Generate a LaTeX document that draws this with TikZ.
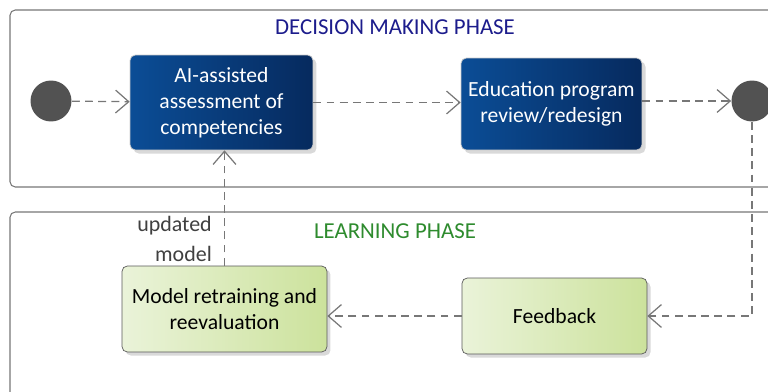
\documentclass[tikz,border=0pt]{standalone}
\usepackage{fontspec}
\setmainfont{Carlito}
\usetikzlibrary{shadows,arrows.meta}

\definecolor{darkA}{HTML}{0B4D96}
\definecolor{darkB}{HTML}{062A5E}
\definecolor{lightA}{HTML}{EAF3D9}
\definecolor{lightB}{HTML}{CCE29C}
\definecolor{titleblue}{HTML}{1C1C8C}
\definecolor{titlegreen}{HTML}{2E8B2E}
\definecolor{flow}{HTML}{777777}

\begin{document}
\begin{tikzpicture}[x=0.02cm, y=-0.02cm,
    phase/.style={draw=flow, rounded corners=3pt, line width=0.6pt},
    darkact/.style={draw=gray!40, rounded corners=3pt, left color=darkA,
      right color=darkB, text=white, align=center,
      font=\fontsize{12.3}{14.8}\selectfont,
      drop shadow={opacity=0.3, shadow xshift=2pt, shadow yshift=-2pt}},
    lightact/.style={draw=gray!70!black, rounded corners=3pt, left color=lightA,
      right color=lightB, text=black, align=center,
      font=\fontsize{12.3}{14.8}\selectfont,
      drop shadow={opacity=0.3, shadow xshift=2pt, shadow yshift=-2pt}},
    dot/.style={circle, fill=black!68, minimum size=0.82cm, inner sep=0pt},
    flowto/.style={draw=flow, line width=0.7pt, dash pattern=on 4.5pt off 3pt,
      -{Straight Barb[length=7.5pt, width=13pt, line width=0.7pt]}},
    lbl/.style={text=black!75, align=right, font=\fontsize{12.5}{17}\selectfont}
  ]
    \clip (0,0) rectangle (768,392) ;
    % phases
    \draw [phase] (10,10) rectangle (800,187) ;
    \draw [phase] (10,212) rectangle (800,420) ;
    \node [text=titleblue, font=\fontsize{13}{15}\selectfont] (dtitle) at (395,27) {DECISION MAKING PHASE} ;
    \node [text=titlegreen, font=\fontsize{13}{15}\selectfont] (ltitle) at (395,231) {LEARNING PHASE} ;
    % decision making
    \node [dot] (start) at (51,101) {} ;
    \node [darkact, minimum width=3.66cm, minimum height=1.9cm] (ai) at (221.5,102.5)
      {AI-assisted\\assessment of\\competencies} ;
    \node [darkact, minimum width=3.62cm, minimum height=1.84cm] (edu) at (551.5,104)
      {Education program\\review/redesign} ;
    \node [dot] (end) at (752,101) {} ;
    % learning
    \node [lightact, minimum width=4.1cm, minimum height=1.72cm] (model) at (224.5,309)
      {Model retraining and\\reevaluation} ;
    \node [lightact, minimum width=3.7cm, minimum height=1.52cm] (fb) at (554.5,316)
      {Feedback} ;
    \node [lbl, anchor=east] (upd) at (218,239) {updated\\model} ;
    % flows
    \draw [flowto] (start) -- (ai) ;
    \draw [flowto] (ai.east) -- (ai.east -| edu.west) ;
    \draw [flowto] (edu.east |- end.west) -- (end) ;
    \draw [flowto] (end.south) |- (fb.east) ;
    \draw [flowto] (fb.west) -- (fb.west -| model.east) ;
    \draw [flowto] (model.north) -- (model.north |- ai.south) ;
\end{tikzpicture}
\end{document}
